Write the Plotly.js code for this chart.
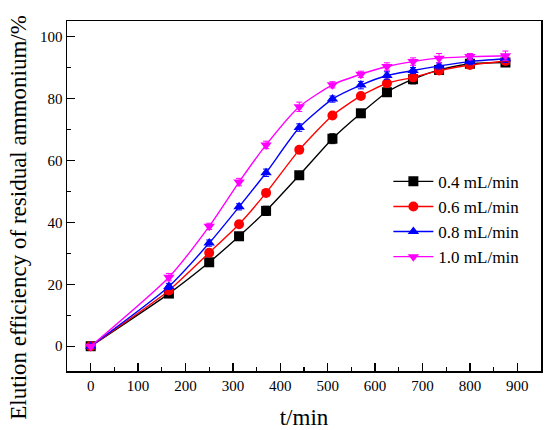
<!DOCTYPE html>
<html><head><meta charset="utf-8">
<script src="https://cdn.plot.ly/plotly-3.0.1.min.js"></script>
<style>html,body{margin:0;padding:0;background:#fff}#chart{width:550px;height:430px}</style>
</head><body><div id="chart"></div>
<script>
const timeMin = [0, 165, 250, 313, 370, 440, 510, 570, 625, 680, 735, 800, 875];
const seriesNames = ["0.4 mL/min", "0.6 mL/min", "0.8 mL/min", "1.0 mL/min"];
const eff04 = [0, 17.0, 27.1, 35.5, 43.7, 55.2, 67.0, 75.2, 82.0, 86.2, 89.2, 91.2, 91.6];
const eff06 = [0, 18.0, 30.2, 39.4, 49.5, 63.4, 74.5, 80.8, 84.9, 86.8, 89.0, 90.8, 92.1];
const eff08 = [0, 19.3, 33.3, 45.0, 56.0, 70.6, 79.8, 84.3, 87.4, 89.0, 90.5, 91.9, 92.8];
const eff10 = [0, 22.3, 38.7, 53.0, 65.0, 77.3, 84.4, 87.8, 90.3, 91.9, 93.0, 93.5, 93.8];
const err04 = [0.5, 1.0, 1.0, 1.2, 1.5, 1.0, 1.6, 1.0, 1.2, 1.5, 1.0, 1.0, 1.0];
const err06 = [0.5, 1.0, 1.0, 1.0, 1.0, 1.0, 1.0, 1.0, 1.0, 1.0, 1.0, 1.0, 1.0];
const err08 = [0.5, 1.0, 1.0, 1.0, 1.2, 1.2, 1.0, 1.2, 1.2, 1.0, 1.0, 1.0, 1.2];
const err10 = [0.5, 1.2, 1.0, 1.2, 1.2, 1.5, 1.0, 1.0, 1.2, 1.2, 1.5, 1.0, 1.5];

const colors = ["#000000", "#FF0000", "#0000FF", "#FF00FF"];
const symbols = ["square", "circle", "triangle-up", "triangle-down"];
const ys = [eff04, eff06, eff08, eff10];
const errs = [err04, err06, err08, err10];

const traces = ys.map((y, i) => ({
  x: timeMin, y: y, name: seriesNames[i], type: "scatter", mode: "lines+markers",
  line: {color: colors[i], width: 1.4, shape: "spline", smoothing: 0.6},
  marker: {symbol: symbols[i], size: 10, color: colors[i]},
  error_y: {type: "data", array: errs[i], visible: true, color: colors[i], thickness: 1, width: 3}
}));

const font = "Liberation Serif";
const layout = {
  width: 550, height: 430,
  margin: {l: 67, r: 9, t: 21, b: 59},
  paper_bgcolor: "#fff", plot_bgcolor: "#fff",
  font: {family: font, color: "#000", size: 15},
  showlegend: true,
  legend: {x: 0.678, y: 0.592, xanchor: "left", yanchor: "top", bgcolor: "rgba(0,0,0,0)",
    font: {family: font, size: 17, color: "#000"}, itemwidth: 40},
  xaxis: {
    range: [-50, 950], tickmode: "array", tickvals: [0,100,200,300,400,500,600,700,800,900],
    ticks: "inside", ticklen: 8, tickwidth: 1.3, tickcolor: "#000",
    minor: {tickmode: "array", tickvals: [50,150,250,350,450,550,650,750,850], ticks: "inside", ticklen: 4, tickwidth: 1.3, tickcolor: "#000"},
    showline: true, linecolor: "#000", linewidth: 1.5, mirror: true,
    showgrid: false, zeroline: false,
    tickfont: {family: font, size: 15, color: "#000"},
    title: {text: "t/min", font: {family: font, size: 23, color: "#000"}, standoff: 16}
  },
  yaxis: {
    range: [-8, 105], tickmode: "array", tickvals: [0,20,40,60,80,100],
    ticks: "inside", ticklen: 8, tickwidth: 1.3, tickcolor: "#000",
    minor: {tickmode: "array", tickvals: [10,30,50,70,90], ticks: "inside", ticklen: 4, tickwidth: 1.3, tickcolor: "#000"},
    showline: true, linecolor: "#000", linewidth: 1.5, mirror: true,
    showgrid: false, zeroline: false,
    tickfont: {family: font, size: 15, color: "#000"}
  },
  annotations: [{
    text: "Elution efficiency of residual ammonium/%", textangle: -90,
    xref: "paper", yref: "paper", x: -0.104, y: 0.44, xanchor: "center", yanchor: "middle",
    showarrow: false, font: {family: font, size: 23, color: "#000"}
  }]
};
Plotly.newPlot("chart", traces, layout, {displayModeBar: false, staticPlot: true});
</script></body></html>
